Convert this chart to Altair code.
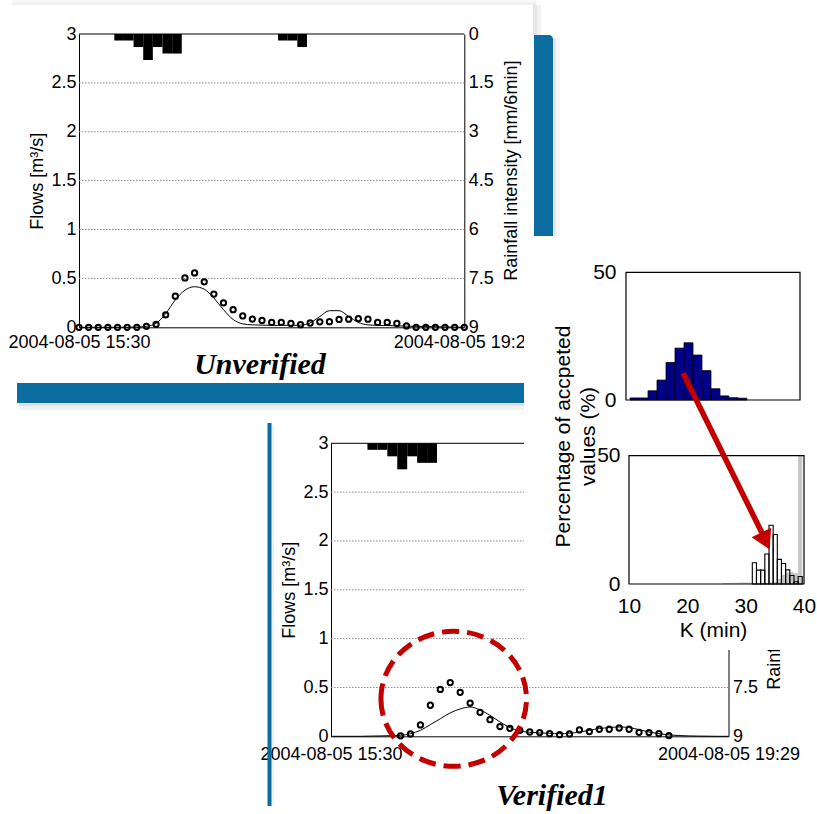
import altair as alt
import pandas as pd

W, H = 817, 814
SANS = "Liberation Sans"
SERIF = "Liberation Serif"
RED = "#c30000"
BLUE = "#0b6d9f"

# ---------------- data ----------------
# minutes after 2004-08-05 15:30, 6-minute steps
time_min = [0, 6, 12, 18, 24, 30, 36, 42, 48, 54, 60, 66, 72, 78, 84, 90, 96, 102, 108, 114,
            120, 126, 132, 138, 144, 150, 156, 162, 168, 174, 180, 186, 192, 198, 204, 210,
            216, 222, 228, 234, 240]
time_tick_values = [0, 240]
time_tick_labels = ["2004-08-05 15:30", "2004-08-05 19:29"]

obs_unverified = [0, 0, 0, 0, 0, 0, 0, 0.01, 0.03, 0.128, 0.318, 0.505, 0.556, 0.465, 0.34,
                  0.25, 0.18, 0.116, 0.084, 0.07, 0.05, 0.05, 0.039, 0.027, 0.044, 0.056,
                  0.057, 0.081, 0.083, 0.089, 0.083, 0.05, 0.05, 0.039, 0.014, 0, 0, 0, 0, 0, 0]
sim_unverified = [0, 0, 0, 0, 0, 0, 0.002, 0.01, 0.04, 0.14, 0.28, 0.38, 0.415, 0.39, 0.30,
                  0.18, 0.08, 0.035, 0.025, 0.022, 0.02, 0.02, 0.02, 0.022, 0.045, 0.11, 0.17,
                  0.17, 0.11, 0.05, 0.025, 0.02, 0.018, 0.015, 0.012, 0.01, 0.008, 0.006,
                  0.004, 0.002, 0]

obs_verified_time = time_min[7:35]
obs_verified = [0.005, 0.024, 0.116, 0.318, 0.48, 0.55, 0.45, 0.34, 0.246, 0.17, 0.10, 0.082,
                0.061, 0.044, 0.038, 0.027, 0.017, 0.024, 0.065, 0.048, 0.072, 0.072, 0.085,
                0.072, 0.041, 0.038, 0.027, 0.007]
sim_verified = [0, 0, 0, 0, 0.002, 0.004, 0.006, 0.01, 0.027, 0.061, 0.12, 0.18, 0.24, 0.28,
                0.30, 0.27, 0.215, 0.147, 0.089, 0.055, 0.041, 0.034, 0.031, 0.027, 0.031,
                0.044, 0.061, 0.079, 0.089, 0.096, 0.089, 0.068, 0.044, 0.027, 0.014, 0.008,
                0.004, 0.002, 0.001, 0, 0]

flow_ticks = [0, 0.5, 1, 1.5, 2, 2.5, 3]
rain_ticks = [0, 1.5, 3, 4.5, 6, 7.5, 9]
rain_ticks_visible_lower = [7.5, 9]   # the rest is hidden behind the histogram box
rain_start = [22, 28, 34, 40, 46, 52, 58, 124, 130, 136]
rain_mm = [0.2, 0.2, 0.4, 0.8, 0.4, 0.6, 0.6, 0.2, 0.2, 0.4]
rain_bin = 6

k_ticks = [10, 20, 30, 40]
pct_ticks = [0, 50]
prior_k_lo = [10.7, 12.25, 13.8, 15.35, 16.9, 18.45, 20.0, 21.55, 23.1, 24.65, 26.2, 27.75, 29.3]
prior_bin = 1.55
prior_pct = [0.8, 0.8, 3.6, 7.8, 14.7, 20.3, 22.4, 17.6, 11.5, 4.4, 1.6, 0.9, 0.7]

post_k_lo = [31.14, 31.85, 32.57, 33.28, 34.0, 34.71, 35.42, 36.14, 36.85, 37.57, 38.28, 38.99]
post_bin = 0.714
post_pct = [8.3, 5.4, 5.4, 11.7, 22.9, 19.3, 9.6, 8.0, 5.5, 3.3, 0.9, 2.9]
grey_k_lo = [26.14, 26.86, 27.57, 28.28, 29.0, 29.71, 30.43] + post_k_lo
grey_pct = [0.4, 0.4, 0.5, 0.5, 0.6, 0.6, 0.5, 0.4, 0.4, 0.5, 0.5, 0.6, 0.8, 2.0, 3.6, 4.5,
            4.6, 4.2, 50]

hist_title = ["Percentage of accpeted", "values (%)"]

one = pd.DataFrame({"a": [0]})


def axis(**kw):
    base = dict(labelFont=SANS, labelColor="black", titleFont=SANS, titleColor="black",
                titleFontWeight="normal", labelFlush=False, labelOverlap=False, grid=False,
                ticks=False, tickSize=0, domainColor="black", domainWidth=1)
    base.update(kw)
    return alt.Axis(**base)


def deco(x, x2, y, y2, color, opacity=1.0, **kw):
    return alt.Chart(one).mark_rect(color=color, opacity=opacity, **kw).encode(
        x=alt.value(x), x2=alt.value(x2), y=alt.value(y), y2=alt.value(y2))


def flow_panel(x0, x1, yb, yt, obs_t, obs_v, sim_v, lab_pad, rtitle_x, rvalues):
    tscale = alt.Scale(domain=[0, 240], range=[x0, x1], nice=False, zero=False)
    fscale = alt.Scale(domain=[0, 3], range=[yb, yt], nice=False, zero=False)
    rscale = alt.Scale(domain=[0, 9], range=[yt, yb], nice=False, zero=False)
    mid = (yb + yt) / 2
    label_expr = "datum.value == %d ? '%s' : '%s'" % (time_tick_values[0], time_tick_labels[0], time_tick_labels[1])
    left_axis = axis(orient="left", offset=-x0, values=flow_ticks, format=".2~g", labelFontSize=18,
                     labelPadding=3, title="Flows [m³/s]", titleFontSize=18, titleAngle=270,
                     titleAlign="center", titleBaseline="bottom", titleX=-33, titleY=mid, zindex=0)
    right_axis = axis(orient="right", offset=x1 - W, values=rvalues, format=".2~g", labelFontSize=18,
                      labelPadding=4, title="Rainfall intensity [mm/6min]", titleFontSize=18,
                      titleAngle=270, titleAlign="center", titleBaseline="top", titleX=rtitle_x,
                      titleY=mid - 10.5, zindex=0)
    bottom_axis = axis(orient="bottom", offset=yb - H, values=time_tick_values, labelExpr=label_expr,
                       labelFontSize=18, labelPadding=lab_pad, title=None, zindex=0)

    grid_df = pd.DataFrame({"v": flow_ticks[1:-1], "t0": 0, "t1": 240})
    top_df = pd.DataFrame({"v": [flow_ticks[-1]], "t0": [0], "t1": [240]})
    rain_df = pd.DataFrame({"t0": rain_start, "t1": [s + rain_bin for s in rain_start],
                            "mm": rain_mm, "zero": 0})
    sim_df = pd.DataFrame({"t": time_min, "q": sim_v})
    obs_df = pd.DataFrame({"t": obs_t, "q": obs_v})

    grid = alt.Chart(grid_df).mark_rule(color="#8a8a8a", strokeDash=[1.5, 1.5], strokeWidth=1).encode(
        x=alt.X("t0:Q", scale=tscale, axis=None), x2="t1",
        y=alt.Y("v:Q", scale=fscale, axis=left_axis))
    top = alt.Chart(top_df).mark_rule(color="black", strokeWidth=1).encode(
        x=alt.X("t0:Q", scale=tscale, axis=None), x2="t1",
        y=alt.Y("v:Q", scale=fscale, axis=None))
    rain = alt.Chart(rain_df).mark_rect(color="black").encode(
        x=alt.X("t0:Q", scale=tscale, axis=None), x2="t1",
        y=alt.Y("mm:Q", scale=rscale, axis=right_axis), y2="zero")
    line = alt.Chart(sim_df).mark_line(color="black", strokeWidth=1, interpolate="monotone").encode(
        x=alt.X("t:Q", scale=tscale, axis=bottom_axis),
        y=alt.Y("q:Q", scale=fscale, axis=None))
    pts = alt.Chart(obs_df).mark_point(shape="circle", filled=False, color="black", size=28,
                                       strokeWidth=2, opacity=1).encode(
        x=alt.X("t:Q", scale=tscale, axis=None),
        y=alt.Y("q:Q", scale=fscale, axis=None))
    return [grid, top, rain, line, pts]


layers = []

# ---- decorations of the upper ("Unverified") slide panel ----
layers += [
    deco(12, 536, 0, 2.5, "black", 0.03),
    deco(12, 536, 2.5, 5, "black", 0.06),
    deco(533, 537, 5, 35, "black", 0.10),
    deco(537, 541, 5, 35, "black", 0.05),
    deco(534, 553, 35, 236, BLUE, 1.0, cornerRadiusTopRight=4),
    deco(553, 556, 38, 236, "black", 0.10),
    deco(556, 560, 38, 236, "black", 0.04),
    deco(17, 528, 383, 403, BLUE, 1.0),
    deco(19, 528, 403, 406, "black", 0.12),
    deco(19, 528, 406, 410, "black", 0.05),
]
layers += flow_panel(79, 464.3, 327.3, 34, time_min, obs_unverified, sim_unverified, 6.5, 38, rain_ticks)

# ---- lower ("Verified1") panel ----
layers += [deco(267.5, 271.5, 423, 806, BLUE, 1.0), deco(271.5, 274, 425, 806, "black", 0.06)]
layers += flow_panel(331, 728.5, 736.3, 443.3, obs_verified_time, obs_verified, sim_verified, 9, 36.5,
                     rain_ticks_visible_lower)

# ---- white box holding the histograms ----
layers.append(deco(524, 817, 236, 650, "white", 1.0))

# top histogram (prior)
px = alt.Scale(domain=[10, 40], range=[626, 800], nice=False, zero=False)
py = alt.Scale(domain=[0, 50], range=[400, 272.3], nice=False, zero=False)
prior_df = pd.DataFrame({"lo": prior_k_lo, "hi": [k + prior_bin for k in prior_k_lo],
                         "pct": prior_pct, "zero": 0})
frame_df = pd.DataFrame({"k0": [k_ticks[0]], "k1": [k_ticks[-1]], "p0": [pct_ticks[0]], "p1": [pct_ticks[-1]]})
layers.append(alt.Chart(prior_df).mark_rect(fill="#000088", stroke="black", strokeWidth=0.8).encode(
    x=alt.X("lo:Q", scale=px, axis=None), x2="hi",
    y=alt.Y("pct:Q", scale=py, axis=axis(orient="left", offset=-626, values=pct_ticks, labelFontSize=21,
                                         labelPadding=10, domain=False, title=None, zindex=1)),
    y2="zero"))
layers.append(alt.Chart(frame_df).mark_rect(filled=False, color="black", strokeWidth=1.2).encode(
    x=alt.X("k0:Q", scale=px, axis=None), x2="k1",
    y=alt.Y("p0:Q", scale=py, axis=None), y2="p1"))

# bottom histogram (posterior)
qx = alt.Scale(domain=[10, 40], range=[629, 804], nice=False, zero=False)
qy = alt.Scale(domain=[0, 50], range=[584, 455.7], nice=False, zero=False, clamp=True)
grey_df = pd.DataFrame({"lo": grey_k_lo, "hi": [k + post_bin for k in grey_k_lo], "pct": grey_pct, "zero": 0})
post_df = pd.DataFrame({"lo": post_k_lo, "hi": [k + post_bin for k in post_k_lo], "pct": post_pct, "zero": 0})
layers.append(alt.Chart(grey_df).mark_rect(color="#c6c6c6").encode(
    x=alt.X("lo:Q", scale=qx, axis=axis(orient="bottom", offset=584 - H, values=k_ticks, labelFontSize=21,
                                        labelPadding=11, domain=False, title="K (min)", titleFontSize=21,
                                        titleX=713, titleY=52.7, titleAlign="center",
                                        titleBaseline="alphabetic", zindex=1)),
    x2="hi",
    y=alt.Y("pct:Q", scale=qy, axis=axis(orient="left", offset=-629, values=pct_ticks, labelFontSize=21,
                                         labelPadding=9, domain=False, title=hist_title, titleFontSize=21,
                                         titleAngle=270, titleAlign="center", titleBaseline="middle",
                                         titleLineHeight=25, titleX=-66, titleY=436, zindex=1)),
    y2="zero"))
layers.append(alt.Chart(post_df).mark_rect(filled=False, color="black", strokeWidth=1.1).encode(
    x=alt.X("lo:Q", scale=qx, axis=None), x2="hi",
    y=alt.Y("pct:Q", scale=qy, axis=None), y2="zero"))
layers.append(alt.Chart(frame_df).mark_rect(filled=False, color="black", strokeWidth=1.2).encode(
    x=alt.X("k0:Q", scale=qx, axis=None), x2="k1",
    y=alt.Y("p0:Q", scale=qy, axis=None), y2="p1"))

# ---- annotations ----
layers.append(alt.Chart(one).mark_rule(color=RED, strokeWidth=5.5).encode(
    x=alt.value(683), y=alt.value(373), x2=alt.value(763.5), y2=alt.value(536)))
layers.append(alt.Chart(one).mark_point(shape="triangle-up", filled=True, color=RED, size=470,
                                        angle=154, opacity=1).encode(
    x=alt.value(765.5), y=alt.value(541)))
ellipse = "M -1.04 0 A 1.04 0.965 0 1 0 1.04 0 A 1.04 0.965 0 1 0 -1.04 0 Z"
layers.append(alt.Chart(one).mark_point(shape=ellipse, filled=False, color=RED, size=140 * 140,
                                        strokeWidth=5, strokeDash=[17, 8], opacity=1).encode(
    x=alt.value(453.7), y=alt.value(698.8)))

layers.append(alt.Chart(one).mark_text(text="Unverified", font=SERIF, fontSize=30, fontStyle="italic",
                                       fontWeight="bold", align="center", baseline="alphabetic",
                                       color="black").encode(x=alt.value(260), y=alt.value(374)))
layers.append(alt.Chart(one).mark_text(text="Verified1", font=SERIF, fontSize=30, fontStyle="italic",
                                       fontWeight="bold", align="center", baseline="alphabetic",
                                       color="black").encode(x=alt.value(552), y=alt.value(805)))

chart = alt.layer(*layers).resolve_scale(x="independent", y="independent").resolve_axis(
    x="independent", y="independent").properties(
    width=W, height=H, autosize=alt.AutoSizeParams(type="none"), padding=0, background="white"
).configure_view(stroke=None)

chart.save("out.html", embed_options={"renderer": "svg", "actions": False})
